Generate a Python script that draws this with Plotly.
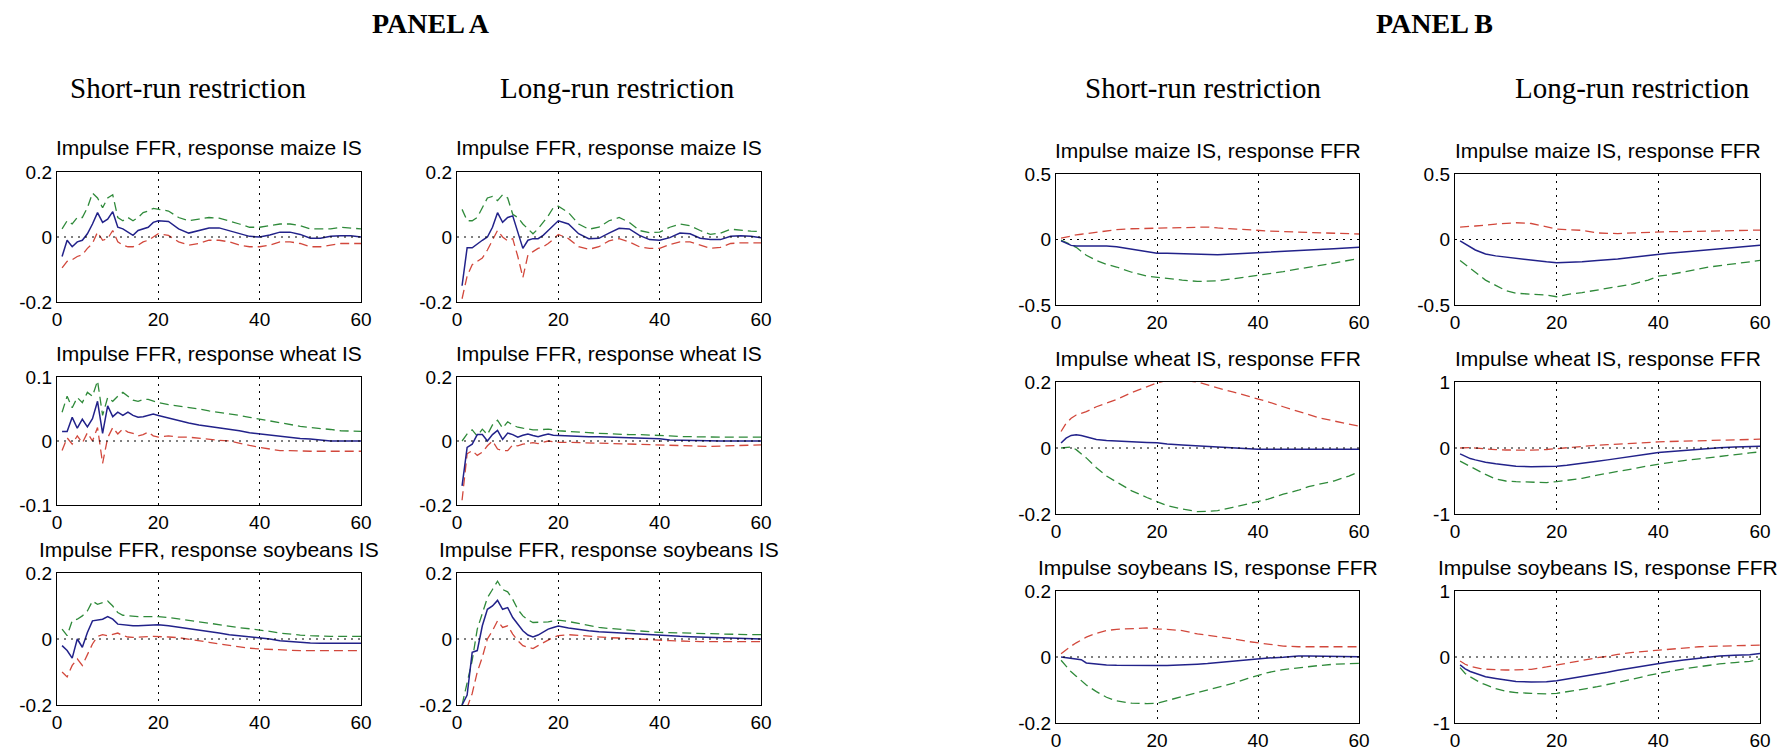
import plotly.graph_objects as go

W, H = 1782, 752

# ---------------- data ----------------
X_A = list(range(1, 21)) + list(range(22, 61, 2))
X_B = [1, 2, 3, 4, 5, 6, 8, 10, 12, 15, 18, 20, 22, 25, 28, 30, 32, 35, 38, 40,
       42, 45, 48, 50, 52, 55, 58, 60]

# Panel A - short-run - Impulse FFR, response maize IS
A_SR_MAIZE_BLUE = [-0.06, -0.01, -0.03, -0.015, -0.01, 0.01, 0.04, 0.075, 0.045, 0.055,
                   0.078, 0.03, 0.025, 0.015, 0.005, 0.02, 0.025, 0.03, 0.045, 0.05,
                   0.048, 0.025, 0.012, 0.02, 0.028, 0.028, 0.02, 0.01, 0.002, 0.0,
                   0.006, 0.015, 0.015, 0.008, -0.004, -0.004, 0.002, 0.004, 0.004, 0.0]
A_SR_MAIZE_GREEN = [0.025, 0.05, 0.04, 0.06, 0.06, 0.09, 0.135, 0.12, 0.09, 0.12,
                    0.13, 0.06, 0.05, 0.06, 0.05, 0.06, 0.075, 0.08, 0.088, 0.085,
                    0.08, 0.06, 0.05, 0.055, 0.06, 0.058, 0.05, 0.04, 0.03, 0.03,
                    0.035, 0.04, 0.04, 0.035, 0.025, 0.025, 0.025, 0.03, 0.028, 0.025]
A_SR_MAIZE_RED = [-0.095, -0.075, -0.07, -0.06, -0.055, -0.035, -0.02, 0.015, -0.01, -0.005,
                  0.02, -0.015, -0.025, -0.03, -0.03, -0.025, -0.015, -0.01, 0.0, 0.01,
                  0.005, -0.015, -0.025, -0.02, -0.01, -0.01, -0.015, -0.025, -0.03, -0.03,
                  -0.025, -0.015, -0.015, -0.02, -0.03, -0.03, -0.025, -0.02, -0.02, -0.02]

# Panel A - long-run - Impulse FFR, response maize IS
A_LR_MAIZE_BLUE = [-0.15, -0.033, -0.033, -0.02, -0.01, 0.0, 0.03, 0.075, 0.045, 0.06,
                   0.065, 0.015, -0.035, -0.01, -0.005, -0.005, 0.005, 0.02, 0.035, 0.05,
                   0.04, 0.01, -0.005, -0.004, 0.012, 0.027, 0.025, 0.005, -0.008, -0.01,
                   -0.002, 0.012, 0.01, -0.004, -0.008, -0.008, 0.002, 0.004, 0.002, -0.002]
A_LR_MAIZE_GREEN = [0.085, 0.05, 0.05, 0.06, 0.09, 0.12, 0.125, 0.112, 0.13, 0.12,
                    0.07, 0.06, 0.04, 0.025, 0.01, 0.025, 0.045, 0.065, 0.09, 0.095,
                    0.075, 0.04, 0.024, 0.03, 0.05, 0.06, 0.045, 0.02, 0.013, 0.015,
                    0.03, 0.04, 0.035, 0.02, 0.008, 0.012, 0.024, 0.02, 0.018, 0.017]
A_LR_MAIZE_RED = [-0.19, -0.12, -0.085, -0.075, -0.065, -0.04, -0.01, 0.02, 0.0, -0.012,
                  -0.005, -0.06, -0.125, -0.055, -0.045, -0.035, -0.03, -0.02, -0.007, 0.008,
                  -0.005, -0.03, -0.038, -0.03, -0.012, -0.005, -0.015, -0.03, -0.035, -0.035,
                  -0.023, -0.015, -0.015, -0.025, -0.035, -0.032, -0.02, -0.018, -0.018, -0.018]

# Panel A - short-run - Impulse FFR, response wheat IS
A_SR_WHEAT_BLUE = [0.015, 0.015, 0.037, 0.02, 0.034, 0.022, 0.035, 0.062, 0.012, 0.055,
                   0.038, 0.045, 0.04, 0.045, 0.04, 0.037, 0.038, 0.04, 0.042, 0.04,
                   0.036, 0.031, 0.028, 0.025, 0.023, 0.021, 0.019, 0.016, 0.013, 0.011,
                   0.009, 0.007, 0.005, 0.004, 0.003, 0.001, 0.0, 0.0, 0.0, 0.0]
A_SR_WHEAT_GREEN = [0.045, 0.07, 0.052, 0.068, 0.06, 0.076, 0.07, 0.094, 0.04, 0.068,
                    0.062, 0.07, 0.076, 0.07, 0.064, 0.062, 0.065, 0.065, 0.062, 0.06,
                    0.057, 0.055, 0.053, 0.05, 0.047, 0.045, 0.042, 0.04, 0.037, 0.034,
                    0.031, 0.028, 0.026, 0.023, 0.021, 0.02, 0.018, 0.016, 0.015, 0.015]
A_SR_WHEAT_RED = [-0.015, 0.005, -0.005, 0.008, -0.003, 0.013, 0.0, 0.021, -0.035, 0.005,
                  0.021, 0.011, 0.019, 0.014, 0.012, 0.008, 0.01, 0.014, 0.008, 0.006,
                  0.008, 0.006, 0.006, 0.004, 0.003, 0.001, 0.0, -0.004, -0.007, -0.01,
                  -0.012, -0.015, -0.015, -0.016, -0.016, -0.016, -0.016, -0.016, -0.016, -0.016]

# Panel A - long-run - Impulse FFR, response wheat IS
A_LR_WHEAT_BLUE = [-0.14, -0.02, -0.01, 0.02, 0.02, 0.0, 0.02, 0.033, 0.005, 0.025,
                   0.02, 0.012, 0.018, 0.022, 0.017, 0.013, 0.018, 0.022, 0.018, 0.017,
                   0.016, 0.014, 0.013, 0.013, 0.012, 0.011, 0.01, 0.009, 0.008, 0.007,
                   0.003, 0.002, 0.001, 0.0, 0.0, 0.0, 0.0, 0.0, 0.0, 0.0]
A_LR_WHEAT_GREEN = [0.0, 0.022, 0.035, 0.015, 0.037, 0.02, 0.05, 0.065, 0.04, 0.06,
                    0.05, 0.043, 0.04, 0.037, 0.035, 0.035, 0.036, 0.037, 0.035, 0.032,
                    0.03, 0.027, 0.026, 0.024, 0.022, 0.021, 0.02, 0.02, 0.019, 0.019,
                    0.016, 0.014, 0.013, 0.012, 0.012, 0.012, 0.012, 0.012, 0.012, 0.012]
A_LR_WHEAT_RED = [-0.185, -0.04, -0.03, -0.045, -0.035, -0.015, 0.0, -0.025, -0.03, -0.03,
                  -0.012, -0.015, -0.01, -0.008, -0.005, -0.008, -0.004, 0.0, -0.002, -0.004,
                  -0.004, -0.005, -0.005, -0.006, -0.007, -0.008, -0.009, -0.01, -0.011, -0.011,
                  -0.013, -0.014, -0.015, -0.016, -0.017, -0.016, -0.015, -0.013, -0.012, -0.012]

# Panel A - short-run - Impulse FFR, response soybeans IS
A_SR_SOY_BLUE = [-0.02, -0.035, -0.058, 0.0, -0.025, 0.02, 0.055, 0.058, 0.06, 0.068,
                 0.06, 0.045, 0.043, 0.041, 0.04, 0.04, 0.041, 0.042, 0.043, 0.043,
                 0.04, 0.036, 0.032, 0.028, 0.024, 0.018, 0.013, 0.01, 0.007, 0.004,
                 0.0, -0.005, -0.008, -0.01, -0.012, -0.013, -0.013, -0.013, -0.013, -0.013]
A_SR_SOY_GREEN = [0.03, 0.01, 0.055, 0.06, 0.07, 0.085, 0.115, 0.105, 0.11, 0.115,
                  0.1, 0.08, 0.072, 0.07, 0.068, 0.068, 0.068, 0.068, 0.068, 0.068,
                  0.065, 0.06, 0.056, 0.052, 0.048, 0.043, 0.038, 0.034, 0.031, 0.028,
                  0.023, 0.018, 0.014, 0.012, 0.01, 0.008, 0.008, 0.008, 0.008, 0.008]
A_SR_SOY_RED = [-0.1, -0.115, -0.08, -0.06, -0.08, -0.045, -0.015, 0.008, 0.013, 0.01,
                0.015, 0.018, 0.01, 0.006, 0.005, 0.005, 0.006, 0.007, 0.008, 0.008,
                0.006, 0.004, 0.0, -0.005, -0.01, -0.015, -0.02, -0.024, -0.028, -0.03,
                -0.032, -0.033, -0.034, -0.035, -0.035, -0.035, -0.035, -0.035, -0.035, -0.035]

# Panel A - long-run - Impulse FFR, response soybeans IS
A_LR_SOY_BLUE = [-0.2, -0.17, -0.04, -0.035, 0.04, 0.09, 0.1, 0.117, 0.09, 0.095,
                 0.065, 0.045, 0.025, 0.012, 0.006, 0.012, 0.022, 0.03, 0.035, 0.039,
                 0.033, 0.028, 0.025, 0.022, 0.02, 0.018, 0.016, 0.014, 0.012, 0.011,
                 0.009, 0.008, 0.007, 0.006, 0.005, 0.004, 0.003, 0.002, 0.001, 0.0]
A_LR_SOY_GREEN = [-0.2, -0.13, -0.065, 0.03, 0.08, 0.125, 0.15, 0.175, 0.15, 0.143,
                  0.12, 0.09, 0.07, 0.058, 0.05, 0.05, 0.05, 0.052, 0.055, 0.057,
                  0.053, 0.047, 0.04, 0.035, 0.032, 0.029, 0.026, 0.024, 0.022, 0.02,
                  0.019, 0.018, 0.018, 0.017, 0.016, 0.015, 0.015, 0.014, 0.013, 0.013]
A_LR_SOY_RED = [-0.25, -0.21, -0.165, -0.1, -0.055, 0.0, 0.025, 0.055, 0.035, 0.04,
                0.015, -0.005, -0.02, -0.025, -0.029, -0.02, -0.012, -0.003, 0.005, 0.01,
                0.013, 0.011, 0.008, 0.006, 0.004, 0.003, 0.001, 0.0, -0.002, -0.003,
                -0.005, -0.006, -0.008, -0.008, -0.008, -0.008, -0.008, -0.008, -0.008, -0.008]

# Panel B - short-run - Impulse maize IS, response FFR
B_SR_MAIZE_BLUE = [-0.01, -0.03, -0.045, -0.05, -0.05, -0.045, -0.045, -0.05, -0.055, -0.075,
                   -0.095, -0.105, -0.105, -0.108, -0.115, -0.118, -0.117, -0.11, -0.105, -0.1,
                   -0.098, -0.093, -0.087, -0.08, -0.077, -0.07, -0.064, -0.06]
B_SR_MAIZE_GREEN = [-0.005, -0.02, -0.04, -0.06, -0.09, -0.12, -0.16, -0.19, -0.21, -0.25,
                    -0.28, -0.29, -0.3, -0.31, -0.32, -0.32, -0.315, -0.3, -0.285, -0.27,
                    -0.26, -0.245, -0.225, -0.21, -0.2, -0.18, -0.16, -0.145]
B_SR_MAIZE_RED = [0.01, 0.02, 0.03, 0.035, 0.04, 0.045, 0.055, 0.065, 0.075, 0.082,
                  0.085, 0.085, 0.09, 0.095, 0.098, 0.095, 0.088, 0.08, 0.075, 0.072,
                  0.065, 0.06, 0.057, 0.055, 0.052, 0.048, 0.045, 0.042]

# Panel B - long-run - Impulse maize IS, response FFR
B_LR_MAIZE_BLUE = [-0.01, -0.035, -0.06, -0.08, -0.095, -0.11, -0.125, -0.135, -0.145, -0.16,
                   -0.17, -0.177, -0.175, -0.17, -0.16, -0.155, -0.148, -0.135, -0.12, -0.11,
                   -0.105, -0.095, -0.085, -0.075, -0.067, -0.06, -0.05, -0.043]
B_LR_MAIZE_GREEN = [-0.16, -0.19, -0.22, -0.25, -0.28, -0.31, -0.35, -0.39, -0.41, -0.415,
                    -0.425, -0.437, -0.42, -0.405, -0.385, -0.375, -0.36, -0.34, -0.31, -0.28,
                    -0.27, -0.245, -0.225, -0.21, -0.2, -0.185, -0.17, -0.16]
B_LR_MAIZE_RED = [0.095, 0.1, 0.1, 0.103, 0.105, 0.11, 0.118, 0.125, 0.128, 0.122,
                  0.1, 0.08, 0.075, 0.07, 0.05, 0.045, 0.045, 0.05, 0.055, 0.058,
                  0.06, 0.06, 0.062, 0.065, 0.067, 0.068, 0.07, 0.072]

# Panel B - short-run - Impulse wheat IS, response FFR
B_SR_WHEAT_BLUE = [0.015, 0.03, 0.038, 0.04, 0.038, 0.034, 0.026, 0.023, 0.021, 0.019,
                   0.017, 0.016, 0.012, 0.009, 0.006, 0.004, 0.002, 0.0, -0.003, -0.004,
                   -0.004, -0.004, -0.004, -0.004, -0.004, -0.004, -0.004, -0.004]
B_SR_WHEAT_GREEN = [0.0, 0.002, 0.003, -0.005, -0.018, -0.03, -0.06, -0.085, -0.103, -0.13,
                    -0.15, -0.163, -0.175, -0.185, -0.193, -0.192, -0.19, -0.18, -0.17, -0.162,
                    -0.155, -0.14, -0.128, -0.117, -0.11, -0.1, -0.085, -0.072]
B_SR_WHEAT_RED = [0.05, 0.075, 0.09, 0.1, 0.105, 0.11, 0.125, 0.135, 0.147, 0.168,
                  0.185, 0.197, 0.205, 0.205, 0.2, 0.19, 0.182, 0.17, 0.158, 0.15,
                  0.14, 0.125, 0.11, 0.1, 0.092, 0.082, 0.072, 0.066]

# Panel B - long-run - Impulse wheat IS, response FFR
B_LR_WHEAT_BLUE = [-0.09, -0.13, -0.16, -0.18, -0.2, -0.215, -0.24, -0.26, -0.275, -0.285,
                   -0.285, -0.275, -0.26, -0.235, -0.2, -0.18, -0.155, -0.125, -0.09, -0.068,
                   -0.055, -0.035, -0.018, -0.005, 0.003, 0.015, 0.025, 0.028]
B_LR_WHEAT_GREEN = [-0.2, -0.24, -0.28, -0.32, -0.37, -0.4, -0.47, -0.5, -0.51, -0.52,
                    -0.525, -0.51, -0.49, -0.46, -0.41, -0.385, -0.355, -0.315, -0.27, -0.244,
                    -0.22, -0.19, -0.165, -0.145, -0.13, -0.105, -0.075, -0.058]
B_LR_WHEAT_RED = [0.0, 0.005, 0.008, 0.0, -0.008, -0.012, -0.025, -0.03, -0.033, -0.033,
                  -0.023, -0.008, 0.005, 0.025, 0.043, 0.05, 0.06, 0.072, 0.085, 0.093,
                  0.098, 0.105, 0.112, 0.115, 0.118, 0.125, 0.13, 0.133]

# Panel B - short-run - Impulse soybeans IS, response FFR
B_SR_SOY_BLUE = [0.0, -0.002, -0.003, -0.005, -0.008, -0.018, -0.022, -0.024, -0.025, -0.026,
                 -0.026, -0.026, -0.026, -0.025, -0.022, -0.02, -0.017, -0.013, -0.008, -0.004,
                 -0.003, -0.001, 0.003, 0.003, 0.003, 0.003, 0.002, 0.001]
B_SR_SOY_GREEN = [-0.01, -0.028, -0.045, -0.058, -0.072, -0.085, -0.105, -0.122, -0.133, -0.14,
                  -0.141, -0.14, -0.132, -0.12, -0.11, -0.101, -0.092, -0.08, -0.065, -0.055,
                  -0.047, -0.038, -0.032, -0.029, -0.026, -0.022, -0.02, -0.019]
B_SR_SOY_RED = [0.01, 0.022, 0.033, 0.043, 0.052, 0.06, 0.072, 0.08, 0.084, 0.087,
                0.088, 0.085, 0.084, 0.08, 0.07, 0.066, 0.062, 0.055, 0.047, 0.043,
                0.038, 0.033, 0.031, 0.031, 0.031, 0.031, 0.031, 0.031]

# Panel B - long-run - Impulse soybeans IS, response FFR
B_LR_SOY_BLUE = [-0.12, -0.18, -0.22, -0.25, -0.275, -0.3, -0.325, -0.35, -0.37, -0.38,
                 -0.375, -0.36, -0.335, -0.3, -0.26, -0.23, -0.2, -0.16, -0.12, -0.095,
                 -0.075, -0.045, -0.02, 0.0, 0.015, 0.025, 0.035, 0.055]
B_LR_SOY_GREEN = [-0.16, -0.25, -0.3, -0.35, -0.39, -0.42, -0.48, -0.52, -0.54, -0.55,
                  -0.56, -0.55, -0.53, -0.49, -0.45, -0.42, -0.385, -0.335, -0.28, -0.246,
                  -0.22, -0.18, -0.145, -0.125, -0.105, -0.085, -0.065, -0.03]
B_LR_SOY_RED = [-0.06, -0.11, -0.14, -0.16, -0.175, -0.185, -0.195, -0.197, -0.196, -0.186,
                -0.15, -0.12, -0.095, -0.055, -0.01, 0.01, 0.04, 0.07, 0.09, 0.105,
                0.12, 0.14, 0.155, 0.16, 0.166, 0.172, 0.178, 0.18]

X_TICKS = [0, 20, 40, 60]
X_TICK_TEXT = ["0", "20", "40", "60"]
YT_02 = [-0.2, 0, 0.2]
YT_02_TEXT = ["-0.2", "0", "0.2"]
YT_01 = [-0.1, 0, 0.1]
YT_01_TEXT = ["-0.1", "0", "0.1"]
YT_05 = [-0.5, 0, 0.5]
YT_05_TEXT = ["-0.5", "0", "0.5"]
YT_1 = [-1, 0, 1]
YT_1_TEXT = ["-1", "0", "1"]

TITLES = [
    "Impulse FFR, response maize IS", "Impulse FFR, response maize IS",
    "Impulse maize IS, response FFR", "Impulse maize IS, response FFR",
    "Impulse FFR, response wheat IS", "Impulse FFR, response wheat IS",
    "Impulse wheat IS, response FFR", "Impulse wheat IS, response FFR",
    "Impulse FFR, response soybeans IS", "Impulse FFR, response soybeans IS",
    "Impulse soybeans IS, response FFR", "Impulse soybeans IS, response FFR",
]
HEADINGS = ["Short-run restriction", "Long-run restriction",
            "Short-run restriction", "Long-run restriction"]
PANELS = ["PANEL A", "PANEL B"]

# ---------------- layout geometry (pixels) ----------------
COL_PX = [(57, 361), (457, 761), (1056, 1359), (1455, 1760)]
ROW_PX_A = [(172, 302), (377, 505), (573, 705)]
ROW_PX_B = [(174, 305), (382, 514), (591, 723)]

BLUE = "#22228a"
GREEN = "#2f8a3a"
RED = "#d2483c"
DASH = "9px,5px"

SUBPLOTS = [
    # (row, col, x, blue, green, red, yticks, yticktext)
    (0, 0, X_A, A_SR_MAIZE_BLUE, A_SR_MAIZE_GREEN, A_SR_MAIZE_RED, YT_02, YT_02_TEXT),
    (0, 1, X_A, A_LR_MAIZE_BLUE, A_LR_MAIZE_GREEN, A_LR_MAIZE_RED, YT_02, YT_02_TEXT),
    (0, 2, X_B, B_SR_MAIZE_BLUE, B_SR_MAIZE_GREEN, B_SR_MAIZE_RED, YT_05, YT_05_TEXT),
    (0, 3, X_B, B_LR_MAIZE_BLUE, B_LR_MAIZE_GREEN, B_LR_MAIZE_RED, YT_05, YT_05_TEXT),
    (1, 0, X_A, A_SR_WHEAT_BLUE, A_SR_WHEAT_GREEN, A_SR_WHEAT_RED, YT_01, YT_01_TEXT),
    (1, 1, X_A, A_LR_WHEAT_BLUE, A_LR_WHEAT_GREEN, A_LR_WHEAT_RED, YT_02, YT_02_TEXT),
    (1, 2, X_B, B_SR_WHEAT_BLUE, B_SR_WHEAT_GREEN, B_SR_WHEAT_RED, YT_02, YT_02_TEXT),
    (1, 3, X_B, B_LR_WHEAT_BLUE, B_LR_WHEAT_GREEN, B_LR_WHEAT_RED, YT_1, YT_1_TEXT),
    (2, 0, X_A, A_SR_SOY_BLUE, A_SR_SOY_GREEN, A_SR_SOY_RED, YT_02, YT_02_TEXT),
    (2, 1, X_A, A_LR_SOY_BLUE, A_LR_SOY_GREEN, A_LR_SOY_RED, YT_02, YT_02_TEXT),
    (2, 2, X_B, B_SR_SOY_BLUE, B_SR_SOY_GREEN, B_SR_SOY_RED, YT_02, YT_02_TEXT),
    (2, 3, X_B, B_LR_SOY_BLUE, B_LR_SOY_GREEN, B_LR_SOY_RED, YT_1, YT_1_TEXT),
]

SANS = "Liberation Sans, Arial, sans-serif"
SERIF = "Liberation Serif, Times New Roman, serif"

fig = go.Figure()
annotations = []
shapes = []

for i, (r, c, xs, blue, green, red, yt, ytt) in enumerate(SUBPLOTS):
    n = i + 1
    xa = "x" if n == 1 else f"x{n}"
    ya = "y" if n == 1 else f"y{n}"
    x0, x1 = COL_PX[c]
    rows = ROW_PX_A if c < 2 else ROW_PX_B
    top, bot = rows[r]
    xdom = [x0 / W, x1 / W]
    ydom = [1 - bot / H, 1 - top / H]

    for ys, col, dash, width in ((green, GREEN, DASH, 1.3),
                                 (red, RED, DASH, 1.3),
                                 (blue, BLUE, "solid", 1.5)):
        fig.add_trace(go.Scatter(x=xs, y=ys, mode="lines", xaxis=xa, yaxis=ya,
                                 line=dict(color=col, width=width, dash=dash),
                                 showlegend=False, hoverinfo="skip"))

    axis_common = dict(showline=True, linecolor="black", linewidth=1.2, mirror=True,
                       ticks="", zeroline=False, automargin=False, fixedrange=True,
                       tickfont=dict(family=SANS, size=19, color="black"))
    fig.layout[f"xaxis{'' if n == 1 else n}"] = dict(
        domain=xdom, anchor=ya, range=[0, 60], tickvals=X_TICKS, ticktext=X_TICK_TEXT,
        showgrid=True, gridcolor="black", gridwidth=1, griddash="2px,5px",
        **axis_common)
    fig.layout[f"yaxis{'' if n == 1 else n}"] = dict(
        domain=ydom, anchor=xa, range=[yt[0], yt[-1]], tickvals=yt, ticktext=ytt,
        showgrid=False, **axis_common)

    # dotted zero line
    shapes.append(dict(type="line", xref=xa, yref=ya, x0=0, x1=60, y0=0, y1=0,
                       line=dict(color="black", width=1, dash="2px,5px")))

    annotations.append(dict(text=TITLES[i], xref="paper", yref="paper",
                            x=(x0 + x1) / 2 / W, y=1 - (top - 24) / H,
                            xanchor="center", yanchor="middle", showarrow=False,
                            font=dict(family=SANS, size=21, color="black")))

HEAD_X = [188, 617, 1203, 1632]
for hx, ht in zip(HEAD_X, HEADINGS):
    annotations.append(dict(text=ht, xref="paper", yref="paper", x=hx / W, y=1 - 88 / H,
                            xanchor="center", yanchor="middle", showarrow=False,
                            font=dict(family=SERIF, size=29, color="black")))

PANEL_X = [431, 1434]
for px, pt in zip(PANEL_X, PANELS):
    annotations.append(dict(text=f"<b>{pt}</b>", xref="paper", yref="paper", x=px / W,
                            y=1 - 24 / H, xanchor="center", yanchor="middle",
                            showarrow=False,
                            font=dict(family=SERIF, size=28, color="black")))

fig.update_layout(width=W, height=H, margin=dict(l=0, r=0, t=0, b=0),
                  paper_bgcolor="white", plot_bgcolor="white",
                  annotations=annotations, shapes=shapes, showlegend=False)

fig.write_html("out.html",
               config={"displayModeBar": False, "staticPlot": True},
               post_script="document.body.style.margin='0';"
                           "document.documentElement.style.overflow='hidden';")
